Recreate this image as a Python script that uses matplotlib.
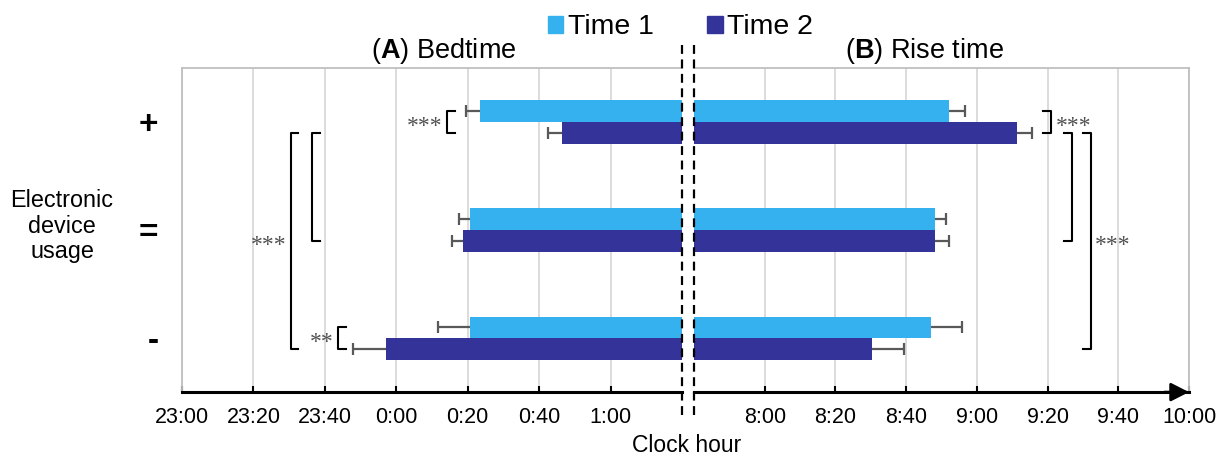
import matplotlib
matplotlib.use('Agg')
import matplotlib.pyplot as plt
from matplotlib.patches import Patch
from matplotlib.lines import Line2D
import numpy as np

plt.rcParams['font.family'] = ['Liberation Sans', 'DejaVu Sans']
plt.rcParams['mathtext.fontset'] = 'custom'
plt.rcParams['mathtext.rm'] = 'Liberation Sans'
plt.rcParams['mathtext.bf'] = 'Liberation Sans:bold'

# groups from bottom to top
groups = ['-', '=', '+']

# bedtime, minutes after midnight (negative = before midnight)
bed_t1 = [20.5, 20.7, 23.3]
bed_t2 = [-3.0, 18.7, 46.3]
bed_t1_err = [8.8, 3.1, 3.7]
bed_t2_err = [9.0, 3.2, 3.7]

# rise time, minutes after midnight
rise_t1 = [527.0, 528.2, 532.2]
rise_t2 = [510.4, 528.2, 551.3]
rise_t1_err = [8.9, 3.0, 4.4]
rise_t2_err = [9.1, 3.9, 4.4]

bed_ticks = [-60, -40, -20, 0, 20, 40, 60]
bed_labels = ['23:00', '23:20', '23:40', '0:00', '0:20', '0:40', '1:00']
rise_ticks = [480, 500, 520, 540, 560, 580, 600]
rise_labels = ['8:00', '8:20', '8:40', '9:00', '9:20', '9:40', '10:00']

bed_start, bed_end = -60, 80      # 23:00 .. 1:20
rise_start, rise_end = 460, 600   # 7:40 .. 10:00

# significance brackets: x, y top, y bottom, label
bed_brackets = [(14.2, 2.1, 1.9, '***'), (-16.3, 0.1, -0.1, '**'),
                (-23.6, 1.9, 0.9, ''), (-29.6, 1.9, -0.1, '***')]
rise_brackets = [(561.0, 2.1, 1.9, '***'), (566.9, 1.9, 0.9, ''),
                 (572.3, 1.9, -0.1, '***')]

c1 = '#36B1EF'
c2 = '#333399'
err_c = '#595959'
grid_c = '#D9D9D9'
frame_c = '#BFBFBF'

fig = plt.figure(figsize=(12.26, 4.57), dpi=100)
ax1 = fig.add_axes([182 / 1226, 0.142, 500 / 1226, 0.709])
ax2 = fig.add_axes([694 / 1226, 0.142, 495 / 1226, 0.709])

y = np.arange(len(groups))
h = 0.2


def one_sided_err(ax, x, yy, err, sign):
    x = np.array(x)
    end = x + sign * np.array(err)
    ax.hlines(yy, x, end, color=err_c, lw=1.6, zorder=3)
    ax.plot(end, yy, ls='none', marker='|', ms=9, mew=1.6, color=err_c, zorder=3)


# left panel: bars grow from 1:20 to the left
ax1.barh(y + h / 2, bed_end - np.array(bed_t1), left=bed_t1, height=h, color=c1, zorder=2)
ax1.barh(y - h / 2, bed_end - np.array(bed_t2), left=bed_t2, height=h, color=c2, zorder=2)
one_sided_err(ax1, bed_t1, y + h / 2, bed_t1_err, -1)
one_sided_err(ax1, bed_t2, y - h / 2, bed_t2_err, -1)

# right panel: bars grow from 7:40 to the right
ax2.barh(y + h / 2, np.array(rise_t1) - rise_start, left=rise_start, height=h, color=c1, zorder=2)
ax2.barh(y - h / 2, np.array(rise_t2) - rise_start, left=rise_start, height=h, color=c2, zorder=2)
one_sided_err(ax2, rise_t1, y + h / 2, rise_t1_err, 1)
one_sided_err(ax2, rise_t2, y - h / 2, rise_t2_err, 1)

for ax, lo, hi, ticks, labels in [(ax1, bed_start, bed_end, bed_ticks, bed_labels),
                                  (ax2, rise_start, rise_end, rise_ticks, rise_labels)]:
    ax.set_xlim(lo, hi)
    ax.set_ylim(-0.5, 2.5)
    ax.set_xticks(ticks, labels)
    ax.grid(axis='x', color=grid_c, lw=1.3, zorder=0)
    ax.set_axisbelow(True)
    ax.tick_params(axis='x', direction='in', length=4, width=1.5, color='k',
                   labelsize=15.5, pad=11)
    ax.spines['top'].set_color(frame_c)
    ax.spines['top'].set_linewidth(1.3)
    ax.spines['bottom'].set_color('k')
    ax.spines['bottom'].set_linewidth(2.2)

ax1.spines['right'].set_visible(False)
ax1.spines['left'].set_color(frame_c)
ax1.spines['left'].set_linewidth(1.3)
ax2.spines['left'].set_visible(False)
ax2.spines['right'].set_color(frame_c)
ax2.spines['right'].set_linewidth(1.3)

ax1.set_yticks(y, groups)
ax1.tick_params(axis='y', length=0, pad=17, labelsize=24)
for t in ax1.get_yticklabels():
    t.set_fontweight('bold')
ax2.set_yticks([])

# arrow at the end of the time axis
ax2.annotate('', xy=(1.0, 0), xytext=(0.95, 0), xycoords='axes fraction',
             arrowprops=dict(arrowstyle='-|>,head_length=0.55,head_width=0.28',
                             color='k', lw=2, shrinkA=0, shrinkB=0, mutation_scale=20))


def bracket(ax, x, y0, y1, label, side):
    w = 2.2 * side
    ax.plot([x + w, x, x, x + w], [y0, y0, y1, y1], color='k', lw=1.5,
            clip_on=False, zorder=4)
    if label:
        ax.text(x - side * 1.2, (y0 + y1) / 2 - 0.02, label, ha='right' if side > 0 else 'left',
                va='center_baseline', fontsize=17, color='#505050',
                family=['Liberation Serif', 'DejaVu Serif'])


for b in bed_brackets:
    bracket(ax1, *b, side=1)
for b in rise_brackets:
    bracket(ax2, *b, side=-1)

# axis break lines
for xp in (682, 694):
    fig.add_artist(Line2D([xp / 1226, xp / 1226], [1 - 45 / 457, 1 - 415 / 457],
                          transform=fig.transFigure, color='k', lw=1.6,
                          ls=(0, (4, 2.5))))

fig.text(444 / 1226, 1 - 51 / 457, r'($\mathbf{A}$) Bedtime', ha='center', va='center', fontsize=19.5)
fig.text(925 / 1226, 1 - 51 / 457, r'($\mathbf{B}$) Rise time', ha='center', va='center', fontsize=19.5)
fig.text(62 / 1226, 1 - 226 / 457, 'Electronic\ndevice\nusage', ha='center', va='center',
         multialignment='center', fontsize=16.8, linespacing=1.15)
fig.text(687 / 1226, 1 - 445 / 457, 'Clock hour', ha='center', va='center', fontsize=16.5)

fig.legend(handles=[Patch(color=c1, label='Time 1'), Patch(color=c2, label='Time 2')],
           loc='center', bbox_to_anchor=(0.555, 0.94), ncol=2, frameon=False,
           fontsize=20.5, handlelength=0.55, handleheight=0.55, handletextpad=0.15,
           columnspacing=1.9, borderaxespad=0)

fig.savefig('out.png', dpi=100)
